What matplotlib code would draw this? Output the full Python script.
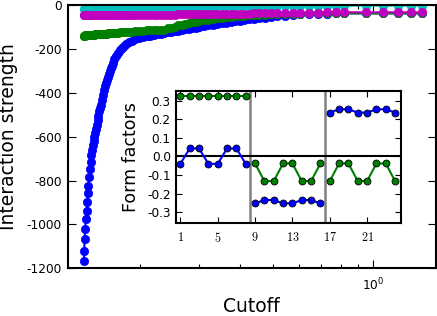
import matplotlib
matplotlib.use("Agg")
import matplotlib.pyplot as plt
from matplotlib.ticker import NullFormatter

plt.rcParams['font.family'] = ['DejaVu Sans']
plt.rcParams['mathtext.fontset'] = 'cm'
plt.rcParams['axes.unicode_minus'] = False

# ---------------- main data ----------------
cutoff = [0.1361, 0.1364, 0.1368, 0.1373, 0.1380, 0.1387, 0.1393, 0.1399, 0.1404, 0.1412,
          0.1419, 0.1426, 0.1433,
          0.1440, 0.1448, 0.1456, 0.1464, 0.1472, 0.1481, 0.1489, 0.1497, 0.1505, 0.1514,
          0.1522, 0.1530, 0.1541, 0.1552, 0.1562, 0.1573, 0.1584, 0.1595, 0.1606, 0.1617,
          0.1628, 0.1640, 0.1651, 0.1662, 0.1680, 0.1697, 0.1721, 0.1745, 0.1769, 0.1793,
          0.1825, 0.1856, 0.1895, 0.1941, 0.1989, 0.2044, 0.2102,
          0.2153, 0.2206, 0.2259, 0.2315, 0.2371, 0.2429, 0.2488, 0.2549, 0.2612, 0.2675,
          0.2741, 0.2808, 0.2876, 0.2946, 0.3018,
          0.3114, 0.3212, 0.3313, 0.3417, 0.3525, 0.3636, 0.3751, 0.3869, 0.3991, 0.4117, 0.4246,
          0.4395, 0.4565, 0.4742, 0.4942, 0.5169,
          0.5443, 0.5740, 0.6036, 0.6436, 0.6848, 0.7257, 0.7711, 0.8193,
          0.9495, 1.0677, 1.1841, 1.2951, 1.4030]

strength_blue = [-1167, -1121, -1067, -1021, -975, -939, -898, -857, -825, -784,
                 -748, -716, -684,
                 -661, -638, -620, -602, -583, -565, -545, -524, -504, -485,
                 -469, -454, -431, -410, -387, -371, -356, -342, -328, -315,
                 -301, -289, -276, -264, -248, -232, -219, -205, -194, -185,
                 -176, -169, -162, -156, -151, -147, -143,
                 -140, -137, -134, -130, -128, -125, -122, -119, -117, -114,
                 -111, -108, -106, -103, -100,
                 -97, -93, -89, -86, -83, -80, -77, -73, -71, -68, -65,
                 -62, -60, -57, -54, -52,
                 -48, -46, -43, -41, -40, -39, -38, -38,
                 -38, -38, -38, -38, -38]

strength_green = [-140, -140, -140, -139, -139, -139, -139, -138, -138, -138,
                  -138, -137, -137,
                  -136, -136, -135, -135, -134, -134, -133, -133, -133, -132,
                  -132, -132, -131, -131, -131, -130, -130, -130, -129, -129,
                  -129, -128, -128, -128, -127, -127, -126, -125, -124, -124,
                  -123, -122, -121, -120, -118, -117, -116,
                  -116, -115, -115, -114, -112, -107, -103, -98, -93, -89,
                  -86, -82, -79, -76, -73,
                  -70, -67, -64, -61, -58, -55, -53, -51, -50, -49, -47,
                  -46, -45, -44, -43, -42,
                  -41, -40, -39, -38, -38, -38, -38, -38,
                  -38, -38, -38, -38, -38]

strength_cyan = [-18, -18, -18, -18, -18, -18, -18, -18, -18, -18,
                 -18, -18, -18,
                 -17, -17, -17, -17, -17, -17, -17, -16, -16, -16,
                 -16, -16, -16, -16, -15, -15, -15, -15, -15, -15,
                 -15, -14, -14, -14, -14, -14, -14, -13, -13, -13,
                 -13, -13, -12, -12, -12, -12, -12,
                 -11, -11, -10, -10, -10, -9, -9, -9, -9, -8,
                 -8, -8, -8, -7, -7,
                 -7, -7, -7, -6, -6, -6, -6, -6, -6, -5, -5,
                 -5, -5, -5, -5, -5,
                 -5, -4, -4, -4, -4, -4, -4, -3,
                 -3, -3, -3, -3, -3]

strength_magenta = [-46, -46, -46, -46, -46, -46, -46, -46, -46, -46,
                    -46, -46, -46,
                    -46, -46, -46, -46, -46, -46, -46, -46, -46, -46,
                    -46, -46, -46, -46, -46, -46, -46, -46, -46, -46,
                    -45, -45, -45, -45, -45, -45, -45, -45, -45, -45,
                    -45, -45, -45, -45, -45, -45, -45,
                    -45, -45, -45, -44, -44, -44, -44, -44, -43, -43,
                    -43, -43, -42, -42, -42,
                    -42, -41, -41, -41, -40, -40, -40, -39, -39, -39, -39,
                    -38, -38, -38, -37, -37,
                    -37, -36, -36, -35, -35, -34, -34, -33,
                    -33, -33, -33, -33, -33]

y_ticks = [0, -200, -400, -600, -800, -1000, -1200]

# ---------------- inset data ----------------
ff_index = list(range(1, 25))
ff_green = [0.326, 0.326, 0.326, 0.326, 0.326, 0.326, 0.326, 0.326,
            -0.038, -0.133, -0.133, -0.038, -0.038, -0.133, -0.133, -0.038,
            -0.133, -0.038, -0.038, -0.133, -0.133, -0.038, -0.038, -0.133]
ff_blue = [-0.040, 0.043, 0.043, -0.040, -0.040, 0.043, 0.043, -0.040,
           -0.253, -0.235, -0.235, -0.253, -0.253, -0.235, -0.235, -0.253,
           0.236, 0.254, 0.254, 0.236, 0.236, 0.254, 0.254, 0.236]
block_size = 8
block_edges = [8.5, 16.5]
ff_xticks = [1, 5, 9, 13, 17, 21]
ff_yticks = [0.3, 0.2, 0.1, 0.0, -0.1, -0.2, -0.3]

# ---------------- figure ----------------
W, H = 437, 316
fig = plt.figure(figsize=(W / 100, H / 100), dpi=100)
ax = fig.add_axes([68 / W, 1 - 268.3 / H, (435.5 - 68) / W, (268.3 - 5) / H])

main_series = [(strength_blue, '#0000ff'), (strength_green, '#008000'),
               (strength_cyan, '#00bfbf'), (strength_magenta, '#bf00bf')]
for vals, col in main_series:
    ax.plot(cutoff, vals, '-o', color=col, lw=1.5, ms=6.0, mfc=col, mec=col, mew=0.5)

ax.set_xscale('log')
ax.set_xlim(0.122, 1.536)
ax.set_ylim(-1200, 0)
ax.set_yticks(y_ticks)
ax.set_yticklabels([str(v) for v in y_ticks])
ax.xaxis.set_minor_formatter(NullFormatter())
ax.tick_params(which='both', direction='in', top=True, right=True, labelsize=8.7, width=0.8)
ax.tick_params(which='major', length=5.5, pad=4.5)
ax.tick_params(which='minor', length=2.8)
ax.tick_params(axis='x', which='major', pad=6)
for sp in ax.spines.values():
    sp.set_linewidth(1.5)
ax.set_xlabel('Cutoff', fontsize=13.5, labelpad=2.5)
ax.set_ylabel('Interaction strength', fontsize=13.5, labelpad=6)

# ---------------- inset ----------------
ax2 = fig.add_axes([175.7 / W, 1 - 222.7 / H, 225 / W, 132 / H])
for b in block_edges:
    ax2.axvline(b, color='#808080', lw=1.8, zorder=1)
ax2.axhline(0, color='black', lw=1.5, zorder=1)
for k in range(3):
    s = slice(k * block_size, (k + 1) * block_size)
    ax2.plot(ff_index[s], ff_green[s], '-o', color='#008000', lw=1.5, ms=5,
             mfc='#008000', mec='black', mew=0.6, zorder=3)
    ax2.plot(ff_index[s], ff_blue[s], '-o', color='#0000ff', lw=1.5, ms=5,
             mfc='#0000ff', mec='black', mew=0.6, zorder=3)
ax2.set_xlim(0.5, 24.6)
ax2.set_ylim(-0.357, 0.354)
ax2.set_xticks(ff_xticks)
ax2.set_xticklabels(['$%d$' % v for v in ff_xticks])
ax2.set_yticks(ff_yticks)
ax2.set_yticklabels(['%.1f' % v for v in ff_yticks])
ax2.tick_params(direction='in', top=True, right=True, labelsize=8.7, length=4.5, width=0.8)
ax2.tick_params(axis='x', pad=6)
for sp in ax2.spines.values():
    sp.set_linewidth(1.5)
ax2.set_ylabel('Form factors', fontsize=12.5, labelpad=5)

fig.savefig('out.png', dpi=100)
